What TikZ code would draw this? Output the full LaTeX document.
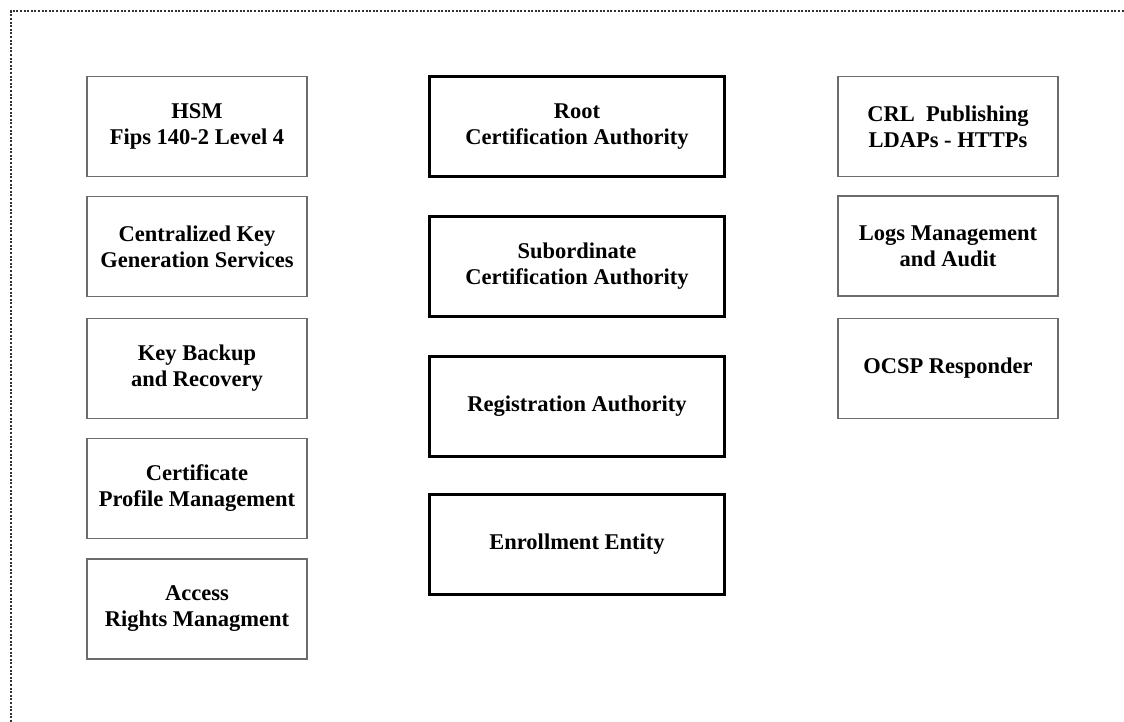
\documentclass[tikz,border=0pt]{standalone}
\usepackage{fontspec}
\setmainfont{Liberation Serif}
\begin{document}
\begin{tikzpicture}[x=1pt,y=-1pt,
  lbl/.style={align=center,font=\fontsize{22.5}{26}\selectfont\bfseries,inner sep=0pt},
  thinbox/.style={lbl,draw=gray!85!black,line width=1.6pt,minimum width=220pt,minimum height=100pt},
  thickbox/.style={lbl,draw=black,line width=3pt,minimum width=295pt,minimum height=100pt},
  frame/.style={draw=black!80,line width=2.4pt,dash pattern=on 2pt off 1.6pt}]
\useasboundingbox (0,0) rectangle (1124,722);
\coordinate (fbl) at (11,722);
\coordinate (ftl) at (11,11);
\coordinate (ftr) at (1124,11);
\draw[frame] (fbl) -- (ftl) -- (ftr);
% left column
\node[thinbox] (hsm) at (197,126.5) {HSM\\Fips 140-2 Level 4};
\node[thinbox] (ckg) at (197,246.5) {Centralized Key\\Generation Services};
\node[thinbox] (kbr) at (197,368.5) {Key Backup\\and Recovery};
\node[thinbox] (cpm) at (197,488.5) {Certificate\\Profile Management};
\node[thinbox] (arm) at (197,609) {Access\\Rights Managment};
% middle column
\node[thickbox] (root) at (577,126.5) {Root\\Certification Authority};
\node[thickbox] (sub) at (577,266.5) {Subordinate\\Certification Authority};
\node[thickbox] (ra) at (577,406) {Registration Authority};
\node[thickbox] (ee) at (577,544.5) {Enrollment Entity};
% right column
\node[thinbox] (crl) at (948,126.5) {CRL\ \ Publishing\\LDAPs - HTTPs};
\node[thinbox] (logs) at (948,246) {Logs Management\\and Audit};
\node[thinbox] (ocsp) at (948,368.5) {OCSP Responder};
\end{tikzpicture}
\end{document}
